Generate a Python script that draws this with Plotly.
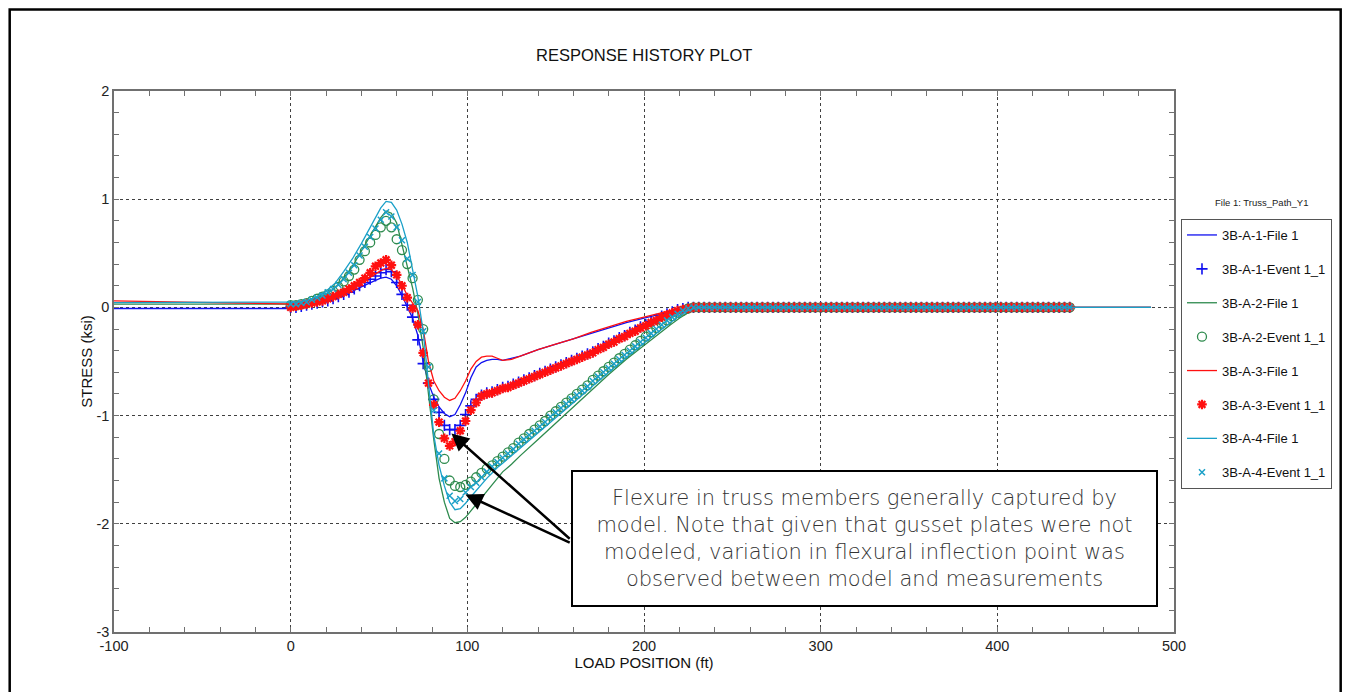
import plotly.graph_objects as go

# ---------------- data ----------------
FILE_X = [-100, -80, -60, -40, -20, -10, 0, 5, 10, 15, 20, 25, 30, 35, 40, 45,
          48, 51, 54, 57, 60, 63, 66, 69, 72, 75, 78, 81, 84, 87, 90, 93, 96, 99,
          102, 105, 108, 111, 114, 117, 120, 125, 130, 140, 150, 160, 170, 180,
          190, 200, 210, 215, 220, 225, 230, 235, 240, 260, 300, 350, 400, 450, 487]

A1_FILE = [-0.01, -0.01, -0.01, -0.01, -0.01, -0.01,
           -0.01, 0.00, 0.02, 0.04, 0.06, 0.09, 0.12, 0.15, 0.19, 0.23,
           0.25, 0.27, 0.28, 0.26, 0.20, 0.11, 0.01, -0.10, -0.26, -0.50,
           -0.70, -0.83, -0.92, -0.98, -1.01, -0.99, -0.90, -0.79, -0.65, -0.55,
           -0.51, -0.49, -0.48, -0.48, -0.49,
           -0.47, -0.45, -0.39, -0.34, -0.29, -0.24, -0.19, -0.14, -0.10, -0.06,
           -0.04, -0.02, -0.01, 0.00, 0.00, 0.00,
           0.00, 0.00, 0.00, 0.00, 0.00, 0.00]

A2_FILE = [0.03, 0.03, 0.03, 0.03, 0.03, 0.03,
           0.03, 0.04, 0.06, 0.09, 0.12, 0.18, 0.27, 0.38, 0.52, 0.66,
           0.75, 0.83, 0.89, 0.87, 0.78, 0.58, 0.38, 0.18, -0.06, -0.37,
           -0.80, -1.22, -1.58, -1.80, -1.95, -1.99, -1.98, -1.94, -1.88, -1.82,
           -1.76, -1.69, -1.63, -1.57, -1.52,
           -1.45, -1.37, -1.22, -1.07, -0.92, -0.77, -0.62, -0.48, -0.35, -0.22,
           -0.16, -0.10, -0.05, -0.01, 0.00, 0.00,
           0.00, 0.00, 0.00, 0.00, 0.00, 0.00]

A3_FILE = [0.06, 0.055, 0.05, 0.045, 0.04, 0.035,
           0.03, 0.03, 0.05, 0.07, 0.09, 0.12, 0.15, 0.19, 0.23, 0.28,
           0.31, 0.34, 0.36, 0.35, 0.29, 0.21, 0.11, 0.04, -0.03, -0.20,
           -0.50, -0.68, -0.77, -0.83, -0.86, -0.84, -0.77, -0.68, -0.57, -0.50,
           -0.46, -0.45, -0.45, -0.47, -0.49,
           -0.48, -0.45, -0.39, -0.34, -0.29, -0.23, -0.18, -0.13, -0.09, -0.05,
           -0.03, -0.01, 0.00, 0.00, -0.01, -0.01,
           -0.01, 0.00, 0.00, 0.00, 0.00, 0.00]

A4_FILE = [0.045, 0.045, 0.045, 0.045, 0.045, 0.045,
           0.045, 0.05, 0.07, 0.10, 0.15, 0.22, 0.33, 0.45, 0.59, 0.74,
           0.84, 0.92, 0.98, 0.97, 0.90, 0.77, 0.60, 0.34, 0.10, -0.22,
           -0.70, -1.18, -1.46, -1.65, -1.80, -1.87, -1.86, -1.81, -1.75, -1.69,
           -1.63, -1.58, -1.53, -1.48, -1.44,
           -1.37, -1.30, -1.16, -1.02, -0.88, -0.74, -0.60, -0.46, -0.33, -0.20,
           -0.14, -0.08, -0.03, 0.00, 0.00, 0.00,
           0.00, 0.00, 0.00, 0.00, 0.00, 0.00]

# measured events, load positions every 3 ft from 0 to 441
EVENT_X = list(range(0, 442, 3))

A1_EVENT = [0.00, 0.00, 0.01, 0.02, 0.03, 0.04, 0.05, 0.06, 0.08, 0.10,
            0.12, 0.14, 0.17, 0.20, 0.23, 0.26, 0.29, 0.32, 0.35, 0.33,
            0.23, 0.12, 0.02, -0.09, -0.30, -0.52, -0.70, -0.85, -0.97, -1.09,
            -1.13, -1.13, -1.09, -0.99, -0.91, -0.85, -0.81, -0.79, -0.78, -0.76,
            -0.74, -0.73, -0.71,
            -0.69, -0.67, -0.65, -0.63, -0.61, -0.59, -0.57, -0.55, -0.53, -0.51,
            -0.49, -0.47, -0.45, -0.43, -0.41, -0.38, -0.36, -0.33, -0.31, -0.28,
            -0.26, -0.23, -0.21, -0.18, -0.16, -0.13, -0.11, -0.08, -0.06, -0.04,
            -0.02, -0.01, 0.00,
            0.00, 0.00, 0.00, 0.00, 0.00, 0.00, 0.00, 0.00, 0.00, 0.00, 0.00, 0.00,
            0.00, 0.00, 0.00, 0.00, 0.00, 0.00, 0.00, 0.00, 0.00, 0.00, 0.00, 0.00,
            0.00, 0.00, 0.00, 0.00, 0.00, 0.00, 0.00, 0.00, 0.00, 0.00, 0.00, 0.00,
            0.00, 0.00, 0.00, 0.00, 0.00, 0.00, 0.00, 0.00, 0.00, 0.00, 0.00, 0.00,
            0.00, 0.00, 0.00, 0.00, 0.00, 0.00, 0.00, 0.00, 0.00, 0.00, 0.00, 0.00,
            0.00, 0.00, 0.00, 0.00, 0.00, 0.00, 0.00, 0.00, 0.00, 0.00, 0.00, 0.00]

A2_EVENT = [0.02, 0.02, 0.03, 0.04, 0.06, 0.08, 0.10, 0.12, 0.15, 0.19,
            0.24, 0.29, 0.35, 0.44, 0.52, 0.60, 0.67, 0.74, 0.80, 0.74,
            0.63, 0.53, 0.40, 0.27, 0.07, -0.20, -0.55, -0.85, -1.17, -1.40,
            -1.60, -1.65, -1.66, -1.64, -1.61, -1.57, -1.53, -1.49, -1.46, -1.42,
            -1.38, -1.34, -1.30,
            -1.25, -1.21, -1.17, -1.13, -1.09, -1.05, -1.00, -0.96, -0.92, -0.88,
            -0.84, -0.80, -0.76, -0.72, -0.67, -0.63, -0.59, -0.55, -0.51, -0.47,
            -0.43, -0.39, -0.35, -0.31, -0.27, -0.23, -0.19, -0.15, -0.12, -0.08,
            -0.05, -0.03, -0.01,
            0.00, 0.00, 0.00, 0.00, 0.00, 0.00, 0.00, 0.00, 0.00, 0.00, 0.00, 0.00,
            0.00, 0.00, 0.00, 0.00, 0.00, 0.00, 0.00, 0.00, 0.00, 0.00, 0.00, 0.00,
            0.00, 0.00, 0.00, 0.00, 0.00, 0.00, 0.00, 0.00, 0.00, 0.00, 0.00, 0.00,
            0.00, 0.00, 0.00, 0.00, 0.00, 0.00, 0.00, 0.00, 0.00, 0.00, 0.00, 0.00,
            0.00, 0.00, 0.00, 0.00, 0.00, 0.00, 0.00, 0.00, 0.00, 0.00, 0.00, 0.00,
            0.00, 0.00, 0.00, 0.00, 0.00, 0.00, 0.00, 0.00, 0.00, 0.00, 0.00, 0.00]

A3_EVENT = [0.00, 0.01, 0.02, 0.03, 0.04, 0.05, 0.06, 0.08, 0.10, 0.12,
            0.14, 0.17, 0.20, 0.23, 0.27, 0.32, 0.38, 0.41, 0.44, 0.39,
            0.30, 0.20, 0.09, -0.01, -0.16, -0.42, -0.70, -0.90, -1.06, -1.21,
            -1.28, -1.24, -1.14, -1.05, -0.95, -0.88, -0.82, -0.80, -0.79, -0.77,
            -0.75, -0.74, -0.72,
            -0.70, -0.68, -0.66, -0.64, -0.62, -0.60, -0.58, -0.56, -0.54, -0.52,
            -0.50, -0.48, -0.46, -0.44, -0.42, -0.39, -0.37, -0.34, -0.32, -0.29,
            -0.27, -0.24, -0.22, -0.19, -0.17, -0.14, -0.12, -0.09, -0.07, -0.05,
            -0.03, -0.02, -0.01,
            0.00, 0.00, 0.00, 0.00, 0.00, 0.00, 0.00, 0.00, 0.00, 0.00, 0.00, 0.00,
            0.00, 0.00, 0.00, 0.00, 0.00, 0.00, 0.00, 0.00, 0.00, 0.00, 0.00, 0.00,
            0.00, 0.00, 0.00, 0.00, 0.00, 0.00, 0.00, 0.00, 0.00, 0.00, 0.00, 0.00,
            0.00, 0.00, 0.00, 0.00, 0.00, 0.00, 0.00, 0.00, 0.00, 0.00, 0.00, 0.00,
            0.00, 0.00, 0.00, 0.00, 0.00, 0.00, 0.00, 0.00, 0.00, 0.00, 0.00, 0.00,
            0.00, 0.00, 0.00, 0.00, 0.00, 0.00, 0.00, 0.00, 0.00, 0.00, 0.00, 0.00]

A4_EVENT = [0.03, 0.03, 0.04, 0.05, 0.07, 0.09, 0.11, 0.14, 0.17, 0.21,
            0.26, 0.32, 0.39, 0.48, 0.56, 0.65, 0.73, 0.81, 0.88, 0.84,
            0.74, 0.62, 0.45, 0.30, 0.05, -0.22, -0.55, -0.95, -1.35, -1.58,
            -1.74, -1.79, -1.77, -1.71, -1.66, -1.62, -1.57, -1.52, -1.47, -1.43,
            -1.39, -1.35, -1.31,
            -1.26, -1.22, -1.18, -1.14, -1.10, -1.06, -1.01, -0.97, -0.93, -0.89,
            -0.85, -0.81, -0.77, -0.73, -0.68, -0.64, -0.60, -0.56, -0.52, -0.48,
            -0.44, -0.40, -0.36, -0.32, -0.28, -0.24, -0.20, -0.16, -0.12, -0.09,
            -0.06, -0.03, -0.01,
            0.00, 0.00, 0.00, 0.00, 0.00, 0.00, 0.00, 0.00, 0.00, 0.00, 0.00, 0.00,
            0.00, 0.00, 0.00, 0.00, 0.00, 0.00, 0.00, 0.00, 0.00, 0.00, 0.00, 0.00,
            0.00, 0.00, 0.00, 0.00, 0.00, 0.00, 0.00, 0.00, 0.00, 0.00, 0.00, 0.00,
            0.00, 0.00, 0.00, 0.00, 0.00, 0.00, 0.00, 0.00, 0.00, 0.00, 0.00, 0.00,
            0.00, 0.00, 0.00, 0.00, 0.00, 0.00, 0.00, 0.00, 0.00, 0.00, 0.00, 0.00,
            0.00, 0.00, 0.00, 0.00, 0.00, 0.00, 0.00, 0.00, 0.00, 0.00, 0.00, 0.00]

SERIES_NAMES = ["3B-A-1-File 1", "3B-A-1-Event 1_1", "3B-A-2-File 1", "3B-A-2-Event 1_1",
                "3B-A-3-File 1", "3B-A-3-Event 1_1", "3B-A-4-File 1", "3B-A-4-Event 1_1"]

X_TICKS = [-100, 0, 100, 200, 300, 400, 500]
X_TICK_TEXT = ["-100", "0", "100", "200", "300", "400", "500"]
Y_TICKS = [-3, -2, -1, 0, 1, 2]
Y_TICK_TEXT = ["-3", "-2", "-1", "0", "1", "2"]

TITLE = "RESPONSE HISTORY PLOT"
X_TITLE = "LOAD POSITION (ft)"
Y_TITLE = "STRESS (ksi)"
LEGEND_TITLE = "File 1: Truss_Path_Y1"
NOTE = ("Flexure in truss members generally captured by<br>"
        "model. Note that given that gusset plates were not<br>"
        "modeled, variation in flexural inflection point was<br>"
        "observed between model and measurements")

# ---------------- styles ----------------
BLUE = "#1010F0"
GREEN = "#2E8B4E"
RED = "#FF1010"
CYAN = "#1AA0C8"
FONT = "Liberation Sans, Arial, sans-serif"

fig = go.Figure()

series = [
    (A1_FILE, A1_EVENT, BLUE, dict(symbol="cross-thin", size=8, line=dict(width=1.6, color=BLUE))),
    (A2_FILE, A2_EVENT, GREEN, dict(symbol="circle-open", size=9, line=dict(width=1.3, color=GREEN))),
    (A3_FILE, A3_EVENT, RED, dict(symbol="asterisk-open", size=8, line=dict(width=2.2, color=RED))),
    (A4_FILE, A4_EVENT, CYAN, dict(symbol="x-thin", size=6, line=dict(width=1.5, color=CYAN))),
]

for i, (fy, ey, col, mk) in enumerate(series):
    fig.add_trace(go.Scatter(x=FILE_X, y=fy, mode="lines", name=SERIES_NAMES[2 * i],
                             line=dict(color=col, width=1.3), legendgroup=f"g{2*i}"))
    fig.add_trace(go.Scatter(x=EVENT_X, y=ey, mode="markers", name=SERIES_NAMES[2 * i + 1],
                             marker=dict(color=col, **mk), legendgroup=f"g{2*i+1}"))

# page is 1352x700 with an 8px body margin
OFF = 8
W, H = 1352 - 2 * OFF, 700 - 2 * OFF
PL, PR, PT, PB = 114, 1176, 91, 632          # plot area in page pixels
L, R, T, B = PL - OFF, 1352 - PR - OFF, PT - OFF, 700 - PB - OFF
PW, PH = PR - PL, PB - PT


def px(xp):
    return (xp - PL) / PW


def py(yp):
    return (PB - yp) / PH


axis_common = dict(
    showline=True, linecolor="#707070", linewidth=1.5, mirror="ticks",
    ticks="inside", ticklen=5, tickcolor="#707070", tickwidth=1,
    showgrid=True, gridcolor="#404040", griddash="dot", gridwidth=1,
    zeroline=False,
    tickfont=dict(family=FONT, size=14.5, color="#222222"),
)

fig.update_xaxes(range=[-100, 500], tickmode="array", tickvals=X_TICKS, ticktext=X_TICK_TEXT,
                 minor=dict(dtick=20, tick0=0, ticks="inside", ticklen=5, tickcolor="#707070", showgrid=False),
                 title=dict(text=X_TITLE, font=dict(family=FONT, size=15, color="#111111"), standoff=0),
                 **axis_common)
fig.update_yaxes(range=[-3, 2], tickmode="array", tickvals=Y_TICKS, ticktext=Y_TICK_TEXT,
                 minor=dict(dtick=0.2, tick0=0, ticks="inside", ticklen=5, tickcolor="#707070", showgrid=False),
                 title=dict(text=Y_TITLE, font=dict(family=FONT, size=15, color="#111111"), standoff=0),
                 **axis_common)

fig.update_layout(
    width=W, height=H,
    margin=dict(l=L, r=R, t=T, b=B),
    paper_bgcolor="white", plot_bgcolor="white",
    showlegend=True,
    legend=dict(x=px(1183), y=py(219), xanchor="left", yanchor="top",
                bgcolor="white", bordercolor="#555555", borderwidth=1,
                font=dict(family=FONT, size=13, color="#111111"),
                tracegroupgap=14, itemwidth=30, traceorder="grouped"),
)

# title
fig.add_annotation(xref="paper", yref="paper", x=0.5, y=py(55), text=TITLE, showarrow=False,
                   xanchor="center", yanchor="middle",
                   font=dict(family=FONT, size=16.5, color="#111111"))

# outer frame
fig.add_shape(type="rect", xref="paper", yref="paper",
              x0=px(9.5), x1=px(1343), y0=py(705), y1=py(9.5),
              line=dict(color="black", width=2.5), layer="above")

# legend title
fig.add_annotation(xref="paper", yref="paper", x=px(1264), y=py(203), text=LEGEND_TITLE,
                   showarrow=False, xanchor="center", yanchor="middle",
                   font=dict(family=FONT, size=9.5, color="#222222"))

# arrows
for tip_x, tip_y, tail_x, tail_y in [(91, -1.165, 158.8, -2.15), (98.9, -1.73, 158.8, -2.18)]:
    fig.add_annotation(x=tip_x, y=tip_y, ax=tail_x, ay=tail_y, xref="x", yref="y",
                       axref="x", ayref="y", text="", showarrow=True,
                       arrowhead=2, arrowsize=1.4, arrowwidth=2.5, arrowcolor="black")

# note box
fig.add_annotation(x=324.6, y=-2.134, xref="x", yref="y", text=NOTE, showarrow=False,
                   xanchor="center", yanchor="middle", align="center",
                   width=583, height=133, borderwidth=2, bordercolor="black", borderpad=0,
                   bgcolor="white",
                   font=dict(family="DejaVu Sans, sans-serif", size=21, weight=200, color="#333333"))

fig.write_html("out.html")
